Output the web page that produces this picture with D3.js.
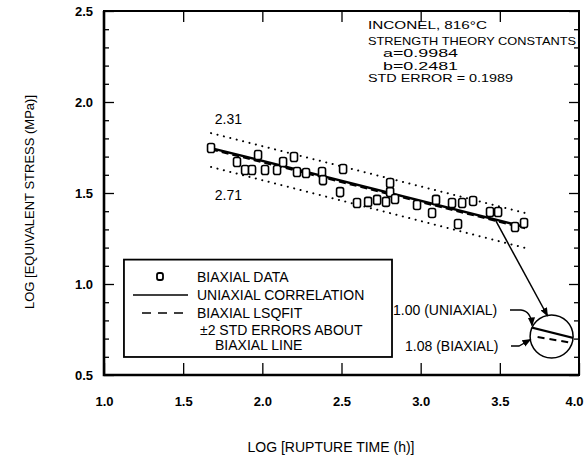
<!DOCTYPE html>
<html>
<head>
<meta charset="utf-8">
<script src="https://cdn.jsdelivr.net/npm/d3@7"></script>
<style>
  body { margin: 0; background: #fff; }
  svg { display: block; font-family: "Liberation Sans", Arial, sans-serif; }
</style>
</head>
<body>
<svg id="chart" width="586" height="460"></svg>
<script>
// ---------- data ----------
const xTicks = [1.0, 1.5, 2.0, 2.5, 3.0, 3.5, 4.0];
const xTickLabels = ["1.0", "1.5", "2.0", "2.5", "3.0", "3.5", "4.0"];
const yTicks = [0.5, 1.0, 1.5, 2.0, 2.5];
const yTickLabels = ["0.5", "1.0", "1.5", "2.0", "2.5"];
const yMinorTicks = [0.6,0.7,0.8,0.9,1.1,1.2,1.3,1.4,1.6,1.7,1.8,1.9,2.1,2.2,2.3,2.4];

// biaxial data: log rupture time (h), log equivalent stress (MPa)
const logTime = [1.676, 1.840, 1.891, 1.935, 1.973, 2.017, 2.093, 2.131, 2.200, 2.219,
                 2.276, 2.377, 2.383, 2.510, 2.491, 2.598, 2.668, 2.725, 2.781, 2.807,
                 2.807, 2.838, 2.977, 3.072, 3.097, 3.198, 3.236, 3.262, 3.331, 3.438,
                 3.489, 3.596, 3.653];
const logStress = [1.747, 1.670, 1.626, 1.626, 1.709, 1.626, 1.626, 1.670, 1.698, 1.615,
                   1.610, 1.615, 1.571, 1.632, 1.505, 1.445, 1.451, 1.462, 1.451, 1.555,
                   1.505, 1.467, 1.434, 1.390, 1.462, 1.445, 1.330, 1.445, 1.456, 1.396,
                   1.396, 1.313, 1.335];

// correlation lines (end points)
const fitX = [1.676, 3.66];
const uniaxialY = [1.747, 1.313];
const biaxialY = [1.740, 1.306];
const upperY = [1.829, 1.390];
const lowerY = [1.643, 1.198];

const legendLabels = ["BIAXIAL DATA", "UNIAXIAL CORRELATION", "BIAXIAL LSQFIT", "\u00B12 STD ERRORS ABOUT", "BIAXIAL LINE"];
const infoLines = ["INCONEL, 816\u00B0C", "STRENGTH THEORY CONSTANTS", "a=0.9984", "b=0.2481", "STD ERROR = 0.1989"];
const bandLabels = ["2.31", "2.71"];
const insetLabels = ["1.00 (UNIAXIAL)", "1.08 (BIAXIAL)"];

// ---------- chart ----------
const svg = d3.select("#chart");
const x = d3.scaleLinear().domain([1, 4]).range([104, 579]);
const y = d3.scaleLinear().domain([0.5, 2.5]).range([375, 11]);

const defs = svg.append("defs");
defs.append("marker").attr("id", "arrowBig").attr("viewBox", "0 0 10 10")
  .attr("refX", 9).attr("refY", 5).attr("markerWidth", 9).attr("markerHeight", 9)
  .attr("markerUnits", "userSpaceOnUse").attr("orient", "auto")
  .append("path").attr("d", "M0,1 L10,5 L0,9 Z").attr("fill", "#000");

// axes
const fmtX = d => xTickLabels[xTicks.indexOf(d)];
const fmtY = d => yTickLabels[yTicks.indexOf(d)];
const styleAxis = g => {
  g.select(".domain").remove();
  g.selectAll("line").attr("stroke", "#000").attr("stroke-width", 1.3);
  g.selectAll("text").attr("font-size", 13).attr("font-weight", "bold").attr("fill", "#000").attr("font-family", "Liberation Sans, Arial, sans-serif");
};
const xAxisG = svg.append("g").attr("transform", `translate(0,${y(0.5)})`)
  .call(d3.axisBottom(x).tickValues(xTicks).tickFormat(fmtX).tickSize(-12).tickPadding(22))
  .call(styleAxis);
xAxisG.selectAll(".tick").filter(d => d === 4).select("text").attr("text-anchor", "end").attr("x", 4);
svg.append("g").attr("transform", `translate(0,${y(2.5)})`)
  .call(d3.axisTop(x).tickValues(xTicks.slice(1, -1)).tickFormat("").tickSize(-11))
  .call(styleAxis);
svg.append("g").attr("transform", `translate(${x(1)},0)`)
  .call(d3.axisLeft(y).tickValues(yTicks).tickFormat(fmtY).tickSize(-10).tickPadding(11))
  .call(styleAxis);
svg.append("g").attr("transform", `translate(${x(1)},0)`)
  .call(d3.axisLeft(y).tickValues(yMinorTicks).tickFormat("").tickSize(-5))
  .call(styleAxis);
svg.append("g").attr("transform", `translate(${x(4)},0)`)
  .call(d3.axisRight(y).tickValues(yTicks).tickFormat("").tickSize(-10))
  .call(styleAxis);
svg.append("g").attr("transform", `translate(${x(4)},0)`)
  .call(d3.axisRight(y).tickValues(yMinorTicks).tickFormat("").tickSize(-5))
  .call(styleAxis);

// frame
svg.append("rect").attr("x", x(1)).attr("y", y(2.5)).attr("width", x(4) - x(1)).attr("height", y(0.5) - y(2.5))
  .attr("fill", "none").attr("stroke", "#000").attr("stroke-width", 2);
svg.append("path").attr("d", `M${x(1)},${y(2.5)} V${y(0.5)} H${x(4)}`)
  .attr("fill", "none").attr("stroke", "#000").attr("stroke-width", 2.6);

// axis titles
svg.append("text").attr("x", 331).attr("y", 452).attr("text-anchor", "middle")
  .attr("font-size", 14).text("LOG [RUPTURE TIME (h)]");
svg.append("text").attr("transform", `translate(34,${202}) rotate(-90)`).attr("text-anchor", "middle")
  .attr("font-size", 13).text("LOG [EQUIVALENT STRESS (MPa)]");

// lines
const seg = ys => d3.line()(fitX.map((v, i) => [x(v), y(ys[i])]));
svg.append("path").attr("d", seg(upperY)).attr("stroke", "#000").attr("stroke-width", 2)
  .attr("stroke-linecap", "round").attr("stroke-dasharray", "0.1,6.5").attr("fill", "none");
svg.append("path").attr("d", seg(lowerY)).attr("stroke", "#000").attr("stroke-width", 2)
  .attr("stroke-linecap", "round").attr("stroke-dasharray", "0.1,6.5").attr("fill", "none");
svg.append("path").attr("d", seg(uniaxialY)).attr("stroke", "#000").attr("stroke-width", 2.4).attr("fill", "none");
svg.append("path").attr("d", seg(biaxialY)).attr("stroke", "#000").attr("stroke-width", 2)
  .attr("stroke-dasharray", "7,4").attr("fill", "none");

// data markers
svg.append("g").selectAll("rect").data(logTime).join("rect")
  .attr("x", d => x(d) - 3.5).attr("y", (d, i) => y(logStress[i]) - 4.5)
  .attr("width", 7).attr("height", 9).attr("rx", 2)
  .attr("fill", "#fff").attr("stroke", "#000").attr("stroke-width", 1.6);

// band labels
svg.append("text").attr("x", x(1.70)).attr("y", y(1.88)).attr("font-size", 14).text(bandLabels[0]);
svg.append("text").attr("x", x(1.70)).attr("y", y(1.46)).attr("font-size", 14).text(bandLabels[1]);

// info block
const infoX = [368, 368, 383, 383, 368];
const infoBase = [29, 44.5, 57, 69.5, 82];
const infoLen = [119, 208, 75, 75, 145];
infoLines.forEach((t, i) => {
  svg.append("text").attr("x", infoX[i]).attr("y", infoBase[i]).attr("font-size", 11)
    .attr("textLength", infoLen[i]).attr("lengthAdjust", "spacingAndGlyphs").text(t);
});

// legend
const lg = svg.append("g");
lg.append("rect").attr("x", x(1.126)).attr("y", y(1.134)).attr("width", x(2.819) - x(1.126))
  .attr("height", y(0.599) - y(1.134)).attr("fill", "#fff").attr("stroke", "#000").attr("stroke-width", 1.8);
const rowY = [277, 295, 313, 330, 345];
const rowX = [197, 197, 197, 200, 215];
legendLabels.forEach((t, i) => {
  lg.append("text").attr("x", rowX[i]).attr("y", rowY[i]).attr("dy", "0.36em").attr("font-size", 14).text(t);
});
lg.append("rect").attr("x", 157).attr("y", 273).attr("width", 6).attr("height", 7).attr("rx", 2)
  .attr("fill", "#fff").attr("stroke", "#000").attr("stroke-width", 1.8);
lg.append("line").attr("x1", 133).attr("x2", 188).attr("y1", 295).attr("y2", 295).attr("stroke", "#000").attr("stroke-width", 1.6);
lg.append("line").attr("x1", 142).attr("x2", 189).attr("y1", 313).attr("y2", 313).attr("stroke", "#000")
  .attr("stroke-width", 1.6).attr("stroke-dasharray", "9,7");

// inset circle
const cx = x(3.827), cy = y(0.7115), r = 21.5;
defs.append("clipPath").attr("id", "circClip").append("circle").attr("cx", cx).attr("cy", cy).attr("r", r);
svg.append("circle").attr("cx", cx).attr("cy", cy).attr("r", r).attr("fill", "#fff").attr("stroke", "#000").attr("stroke-width", 1.5);
const ci = svg.append("g").attr("clip-path", "url(#circClip)");
ci.append("line").attr("x1", cx - 24).attr("y1", cy - 10).attr("x2", cx + 24).attr("y2", cy + 2)
  .attr("stroke", "#000").attr("stroke-width", 2.2);
ci.append("line").attr("x1", cx - 14).attr("y1", cy + 0.5).attr("x2", cx + 24).attr("y2", cy + 7)
  .attr("stroke", "#000").attr("stroke-width", 2).attr("stroke-dasharray", "7,5");

// arrow from correlation line to inset
const ax0 = 3.47, ay0 = uniaxialY[0] + (uniaxialY[1] - uniaxialY[0]) * (ax0 - fitX[0]) / (fitX[1] - fitX[0]);
svg.append("line").attr("x1", x(ax0)).attr("y1", y(ay0)).attr("x2", cx - 4).attr("y2", cy - r + 1)
  .attr("stroke", "#000").attr("stroke-width", 1.5).attr("marker-end", "url(#arrowBig)");

// inset labels and leaders
svg.append("text").attr("x", 393).attr("y", 310).attr("dy", "0.36em").attr("font-size", 14).text(insetLabels[0]);
svg.append("text").attr("x", 405).attr("y", 346).attr("dy", "0.36em").attr("font-size", 14).text(insetLabels[1]);
svg.append("path").attr("d", `M510,310 L521,310 Q531,311 532,${cy - 11}`)
  .attr("fill", "none").attr("stroke", "#000").attr("stroke-width", 1.3).attr("marker-end", "url(#arrowBig)");
svg.append("path").attr("d", `M511,346 L519,346 L${cx - 21},${cy + 3}`)
  .attr("fill", "none").attr("stroke", "#000").attr("stroke-width", 1.3).attr("marker-end", "url(#arrowBig)");
</script>
</body>
</html>
